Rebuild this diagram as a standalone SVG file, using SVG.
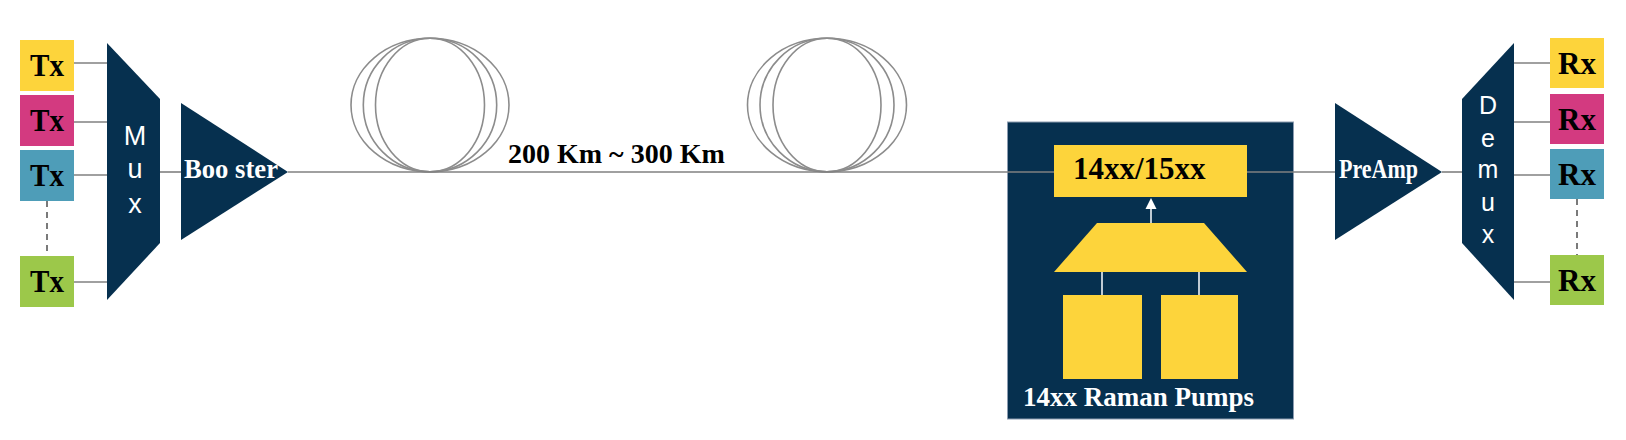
<svg xmlns="http://www.w3.org/2000/svg" width="1626" height="440" viewBox="0 0 1626 440">
<style>
.bg{fill:#ffffff}
.navy{fill:#06304f}
.yellow{fill:#fdd43b}
.magenta{fill:#d33a80}
.teal{fill:#4e9db8}
.green{fill:#9cc84a}
.lbl{font-family:"Liberation Serif","Times New Roman",serif;font-weight:bold;fill:#000000}
.wlbl{font-family:"Liberation Serif","Times New Roman",serif;font-weight:bold;fill:#ffffff}
.sans{font-family:"Liberation Sans",Arial,sans-serif;fill:#ffffff;text-anchor:middle}
.wire{stroke:#808080;stroke-width:1.6;fill:none}
.dash{stroke:#7a7a7a;stroke-width:2;stroke-dasharray:6 5;fill:none}
.coil{stroke:#8c8c8c;stroke-width:1.6;fill:none}
.wline{stroke:#ffffff;stroke-width:1.5;fill:none}
</style>
<rect class="bg" x="0" y="0" width="1626" height="440"/>

<g id="tx1"><rect class="yellow" x="20" y="40" width="54" height="51"/><text class="lbl" x="47" y="76" font-size="32" text-anchor="middle" textLength="34" lengthAdjust="spacingAndGlyphs">Tx</text></g>
<g id="tx2"><rect class="magenta" x="20" y="95" width="54" height="51"/><text class="lbl" x="47" y="131" font-size="32" text-anchor="middle" textLength="34" lengthAdjust="spacingAndGlyphs">Tx</text></g>
<g id="tx3"><rect class="teal" x="20" y="150" width="54" height="51"/><text class="lbl" x="47" y="186" font-size="32" text-anchor="middle" textLength="34" lengthAdjust="spacingAndGlyphs">Tx</text></g>
<g id="tx4"><rect class="green" x="20" y="256" width="54" height="51"/><text class="lbl" x="47" y="292" font-size="32" text-anchor="middle" textLength="34" lengthAdjust="spacingAndGlyphs">Tx</text></g>

<g id="mux">
<polygon class="navy" points="107,43 160,99 160,243 107,300"/>
<text class="sans" font-size="27"><tspan x="135" y="145">M</tspan><tspan x="135" y="178">u</tspan><tspan x="135" y="213">x</tspan></text>
</g>

<g id="booster">
<polygon class="navy" points="181,103 288,172 181,240"/>
<text class="wlbl" x="184" y="178" font-size="27" textLength="94" lengthAdjust="spacingAndGlyphs">Boo ster</text>
</g>

<g id="raman">
<rect class="navy" x="1007.5" y="122" width="286" height="297" stroke="#8b9bb0" stroke-width="1"/>
<rect class="yellow" x="1054" y="145" width="193" height="52"/>
<text class="lbl" x="1073" y="179" font-size="31">14xx/15xx</text>
<polygon class="yellow" points="1097,223 1204,223 1247,272 1054,272"/>
<line class="wline" x1="1151" y1="223" x2="1151" y2="208"/>
<polygon fill="#ffffff" points="1151,198 1145.5,209 1156.5,209"/>
<line class="wline" x1="1102" y1="272" x2="1102" y2="295"/>
<line class="wline" x1="1199" y1="272" x2="1199" y2="295"/>
<rect class="yellow" x="1063" y="295" width="79" height="84"/>
<rect class="yellow" x="1161" y="295" width="77" height="84"/>
<text class="wlbl" x="1023" y="406" font-size="27">14xx Raman Pumps</text>
</g>

<g id="preamp">
<polygon class="navy" points="1335,103 1442,172 1335,240"/>
<text class="wlbl" x="1339" y="178" font-size="27" textLength="79" lengthAdjust="spacingAndGlyphs">PreAmp</text>
</g>

<g id="demux">
<polygon class="navy" points="1462,99 1514,43 1514,300 1462,243"/>
<text class="sans" font-size="25"><tspan x="1488" y="114">D</tspan><tspan x="1488" y="147">e</tspan><tspan x="1488" y="178">m</tspan><tspan x="1488" y="211">u</tspan><tspan x="1488" y="243">x</tspan></text>
</g>

<g id="rx1"><rect class="yellow" x="1550" y="38" width="54" height="50"/><text class="lbl" x="1577" y="74" font-size="31" text-anchor="middle">Rx</text></g>
<g id="rx2"><rect class="magenta" x="1550" y="94" width="54" height="50"/><text class="lbl" x="1577" y="130" font-size="31" text-anchor="middle">Rx</text></g>
<g id="rx3"><rect class="teal" x="1550" y="149" width="54" height="50"/><text class="lbl" x="1577" y="185" font-size="31" text-anchor="middle">Rx</text></g>
<g id="rx4"><rect class="green" x="1550" y="255" width="54" height="50"/><text class="lbl" x="1577" y="291" font-size="31" text-anchor="middle">Rx</text></g>

<g id="fiber">
<ellipse class="coil" cx="430" cy="105" rx="79" ry="66.7"/>
<ellipse class="coil" cx="430" cy="105" rx="66.7" ry="66.7"/>
<ellipse class="coil" cx="430" cy="105" rx="54.5" ry="66.7"/>
<ellipse class="coil" cx="827" cy="105" rx="79.5" ry="66.7"/>
<ellipse class="coil" cx="827" cy="105" rx="67" ry="66.7"/>
<ellipse class="coil" cx="827" cy="105" rx="54" ry="66.7"/>
<text class="lbl" x="508" y="163" font-size="28">200 Km ~ 300 Km</text>
</g>

<g id="connectors">
<line class="wire" x1="74" y1="63" x2="107" y2="63"/>
<line class="wire" x1="74" y1="122" x2="107" y2="122"/>
<line class="wire" x1="74" y1="175" x2="107" y2="175"/>
<line class="wire" x1="74" y1="282" x2="107" y2="282"/>
<line class="dash" x1="47" y1="201" x2="47" y2="256"/>
<line class="wire" x1="160" y1="172" x2="181" y2="172"/>
<line class="wire" x1="288" y1="172" x2="1054" y2="172"/>
<line class="wire" x1="1247" y1="172" x2="1335" y2="172"/>
<line class="wire" x1="1442" y1="172" x2="1462" y2="172"/>
<line class="wire" x1="1514" y1="63" x2="1550" y2="63"/>
<line class="wire" x1="1514" y1="122" x2="1550" y2="122"/>
<line class="wire" x1="1514" y1="175" x2="1550" y2="175"/>
<line class="wire" x1="1514" y1="282" x2="1550" y2="282"/>
<line class="dash" x1="1577" y1="199" x2="1577" y2="255"/>
</g>
</svg>
